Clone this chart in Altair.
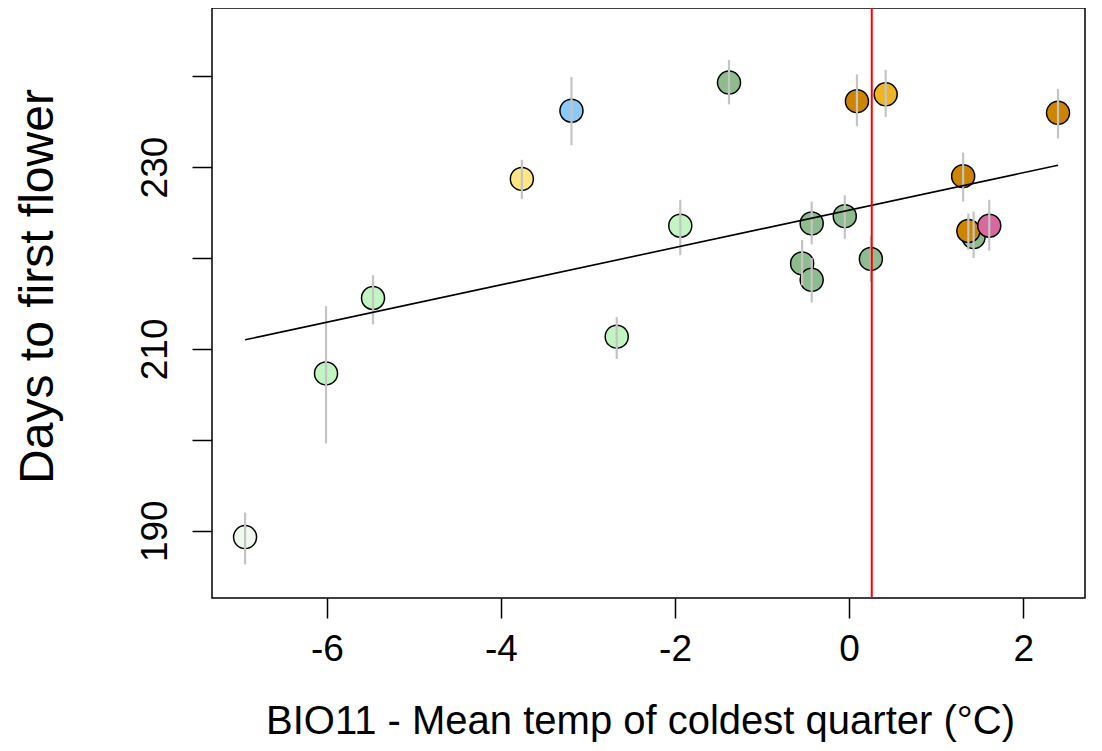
import altair as alt
import pandas as pd

# BIO11 (mean temp of coldest quarter, °C)
bio11 = [-6.94, -6.01, -5.47, -3.76, -3.19, -2.67, -1.94, -1.38, -0.54, -0.43,
         -0.43, -0.05, 0.25, 0.09, 0.42, 1.31, 1.43, 1.37, 1.61, 2.40]
# Days to first flower (mean)
days = [189.3, 207.3, 215.6, 228.7, 236.2, 211.35, 223.55, 239.3, 219.4, 217.6,
        223.8, 224.6, 219.9, 237.25, 238.0, 229.0, 222.3, 222.97, 223.55, 235.97]
# error bar bounds
days_lo = [186.3, 199.6, 212.7, 226.5, 232.4, 208.9, 220.3, 236.9, 217.0, 215.1,
           221.5, 222.1, 217.4, 234.5, 235.5, 226.2, 220.0, 220.9, 220.8, 233.15]
days_hi = [192.0, 214.7, 218.1, 230.8, 239.9, 213.5, 226.4, 241.8, 222.0, 220.0,
           226.2, 226.9, 222.4, 240.2, 240.7, 231.6, 225.1, 224.9, 226.4, 238.6]
# group of each population
group = ["G1", "G2", "G2", "G3", "G4", "G2", "G2", "G5", "G5", "G5",
         "G5", "G5", "G5", "G6", "G7", "G6", "G5", "G6", "G8", "G6"]
group_names = ["G1", "G2", "G3", "G4", "G5", "G6", "G7", "G8"]
group_colors = ["#eefaee", "#c1f5c1", "#ffe680", "#8cc8f8", "#8fbc8f",
                "#cd8500", "#eeb422", "#d9689e"]

# fitted regression line
fit_x = [-6.94, 2.40]
fit_y = [211.0, 230.2]

# reference line
ref_x = [0.26]

x_ticks = [-6, -4, -2, 0, 2]
y_ticks = [190, 200, 210, 220, 230, 240]

pts = pd.DataFrame({"x": bio11, "y": days, "lo": days_lo, "hi": days_hi,
                    "group": group, "order": list(range(len(bio11)))})
fit = pd.DataFrame({"x": fit_x, "y": fit_y})
ref = pd.DataFrame({"x": ref_x})

xscale = alt.Scale(domain=[-7.32, 2.71], nice=False, zero=False)
yscale = alt.Scale(domain=[182.6, 247.5], nice=False, zero=False)

FONT = "Liberation Sans"

xaxis = alt.Axis(values=x_ticks, grid=False, domain=False,
                 tickColor="black", tickWidth=1.5, tickSize=20,
                 labelExpr="'' + datum.value",
                 labelFont=FONT, labelFontSize=37, labelColor="black",
                 labelPadding=13, labelFlush=False,
                 title="BIO11 - Mean temp of coldest quarter (°C)",
                 titleFont=FONT, titleFontSize=40, titleFontWeight="normal",
                 titleColor="black", titleX=428, titleAlign="center",
                 titleY=135, titleBaseline="alphabetic")
yaxis = alt.Axis(values=y_ticks, grid=False, domain=False,
                 tickColor="black", tickWidth=1.5, tickSize=20,
                 labelExpr="datum.value % 20 == 10 ? '' + datum.value : ''",
                 labelFont=FONT, labelFontSize=37, labelColor="black",
                 labelAngle=-90, labelAlign="center", labelBaseline="bottom",
                 labelPadding=18, labelFlush=False,
                 title="Days to first flower",
                 titleFont=FONT, titleFontSize=48, titleFontWeight="normal",
                 titleColor="black", titleAngle=-90, titleX=-160, titleY=278,
                 titleAlign="center", titleBaseline="alphabetic")

points = alt.Chart(pts).mark_point(
    shape="circle", filled=True, size=530, stroke="black", strokeWidth=1.5,
    opacity=1
).encode(
    x=alt.X("x:Q", scale=xscale, axis=xaxis),
    y=alt.Y("y:Q", scale=yscale, axis=yaxis),
    fill=alt.Fill("group:N", scale=alt.Scale(domain=group_names, range=group_colors),
                  legend=None),
    order=alt.Order("order:Q"),
)

bars = alt.Chart(pts).mark_rule(color="#c4c4c4", strokeWidth=2.2).encode(
    x=alt.X("x:Q", scale=xscale),
    y=alt.Y("lo:Q", scale=yscale),
    y2="hi:Q",
)

line = alt.Chart(fit).mark_line(color="black", strokeWidth=1.6).encode(
    x=alt.X("x:Q", scale=xscale),
    y=alt.Y("y:Q", scale=yscale),
)

vline = alt.Chart(ref).mark_rule(color="#ff0000", strokeWidth=2).encode(
    x=alt.X("x:Q", scale=xscale),
)

chart = alt.layer(points, bars, line, vline).properties(
    width=873, height=590,
    autosize=alt.AutoSizeParams(type="none"),
    padding={"left": 204, "top": 0, "right": 9, "bottom": 150},
    background="white",
).configure_view(stroke="black", strokeWidth=1.5)

chart.save("out.html", embed_options={"renderer": "svg", "actions": False})
